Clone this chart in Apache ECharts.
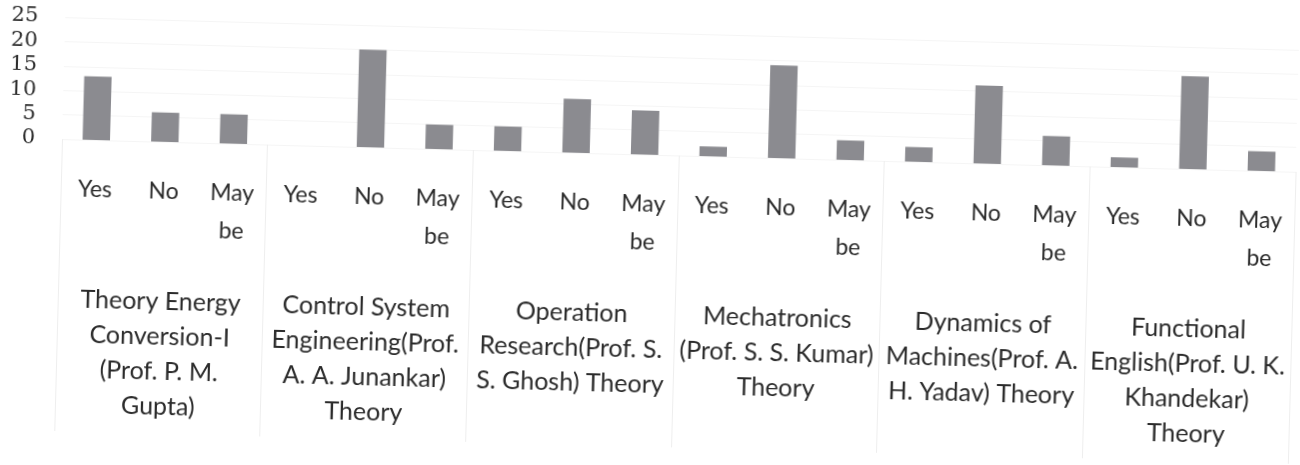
<!DOCTYPE html>
<html>
<head>
<meta charset="utf-8">
<script src="https://cdn.jsdelivr.net/npm/echarts@6/dist/echarts.min.js"></script>
<style>
  html, body { margin: 0; padding: 0; background: #ffffff; overflow: hidden; }
  #chart {
    width: 1300px; height: 465px;
    transform: rotate(1.52deg);
    transform-origin: 96px 140px;
  }
</style>
</head>
<body>
<div id="chart"></div>
<script>
// Feedback responses per subject
const answers = ['Yes', 'No', 'May be'];
const subjects = [
  'Theory Energy\nConversion-I\n(Prof. P. M.\nGupta)',
  'Control System\nEngineering(Prof.\nA. A. Junankar)\nTheory',
  'Operation\nResearch(Prof. S.\nS. Ghosh) Theory',
  'Mechatronics\n(Prof. S. S. Kumar)\nTheory',
  'Dynamics of\nMachines(Prof. A.\nH. Yadav) Theory',
  'Functional\nEnglish(Prof. U. K.\nKhandekar)\nTheory'
];
const yesCounts   = [13, 0, 5, 2, 3, 2];
const noCounts    = [6, 20, 11, 19, 16, 19];
const maybeCounts = [6, 5, 9, 4, 6, 4];
const yTicks = { min: 0, max: 25, step: 5 };

// One category per (subject, answer) pair, in subject order
const categories = [];
const values = [];
subjects.forEach((s, i) => {
  categories.push(answers[0], answers[1], answers[2]);
  values.push(yesCounts[i], noCounts[i], maybeCounts[i]);
});

const textColor = '#2b2b2b';
const chart = echarts.init(document.getElementById('chart'), null, { renderer: 'canvas' });

chart.setOption({
  animation: false,
  backgroundColor: '#ffffff',
  grid: { left: 62, right: 4, top: 18, bottom: 325, containLabel: false },
  xAxis: [
    {
      type: 'category',
      data: categories,
      position: 'bottom',
      axisLine: { show: false },
      axisTick: { show: false },
      axisLabel: {
        interval: 0,
        margin: 31,
        color: textColor,
        fontFamily: 'Lato',
        fontSize: 23,
        lineHeight: 38,
        align: 'center',
        formatter: v => v.replace(' ', '\n')
      }
    },
    {
      // subject names under each group, with thin group separators
      type: 'category',
      data: subjects,
      position: 'bottom',
      offset: 0,
      boundaryGap: true,
      axisLine: { show: false },
      axisTick: {
        show: true,
        interval: 0,
        length: 292,
        lineStyle: { color: '#eeeeee', width: 1 }
      },
      axisLabel: {
        interval: 0,
        margin: 142,
        color: textColor,
        fontFamily: 'Lato',
        fontSize: 25,
        lineHeight: 35,
        align: 'center'
      }
    }
  ],
  yAxis: {
    type: 'value',
    min: yTicks.min,
    max: yTicks.max,
    interval: yTicks.step,
    axisLine: { show: false },
    axisTick: { show: false },
    splitLine: { show: true, lineStyle: { color: '#f5f5f5', width: 1 } },
    axisLabel: {
      margin: 27,
      color: textColor,
      fontFamily: 'DejaVu Serif',
      fontSize: 21
    }
  },
  series: [{
    type: 'bar',
    xAxisIndex: 0,
    data: values,
    barWidth: '40%',
    itemStyle: { color: '#8b8b90' }
  }]
});
</script>
</body>
</html>
